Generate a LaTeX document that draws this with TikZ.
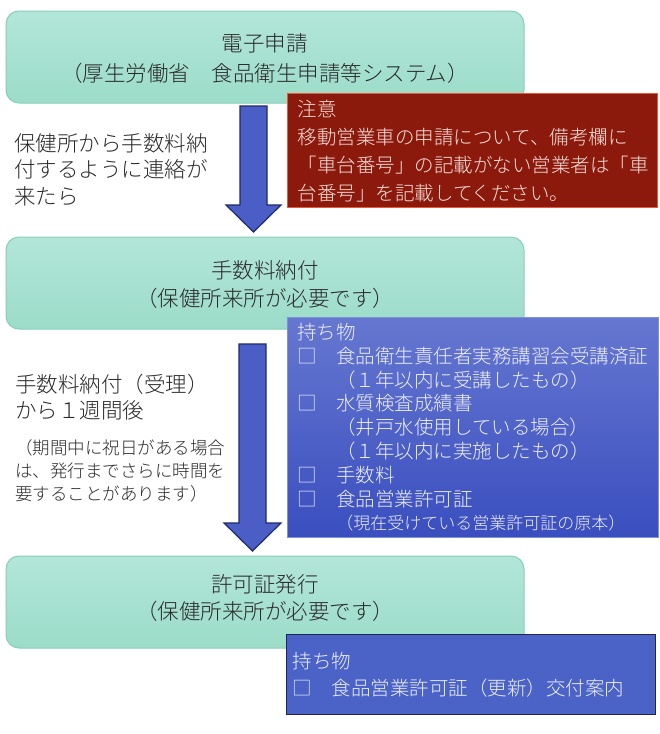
\documentclass[tikz,border=0pt]{standalone}
\usepackage{fontspec}
\setmainfont{Noto Sans CJK JP Light}
\usetikzlibrary{calc}
\definecolor{tealtop}{HTML}{B2E6D9}
\definecolor{tealbot}{HTML}{9CDCC9}
\definecolor{tealline}{HTML}{86CFB8}
\definecolor{redfill}{HTML}{8B1A0C}
\definecolor{redline}{HTML}{E5593E}
\definecolor{redtext}{HTML}{F6E0DA}
\definecolor{bluetop}{HTML}{6677D0}
\definecolor{bluebot}{HTML}{3A4EBF}
\definecolor{blueline}{HTML}{7F8FD8}
\definecolor{bluefill}{HTML}{4B62C6}
\definecolor{bluedark}{HTML}{1D2456}
\definecolor{bluetext}{HTML}{EEF0FA}
\definecolor{arrfill}{HTML}{4A5EC5}
\definecolor{arrline}{HTML}{1E2B6A}
\definecolor{txt}{HTML}{2A2A2A}
\begin{document}
\begin{tikzpicture}[x=1pt,y=-1pt,
  tealbox/.style={draw=tealline, line width=1pt, rounded corners=13pt,
    top color=tealtop, bottom color=tealbot, minimum width=518pt,
    minimum height=92pt, inner sep=0pt, align=center, text=txt,
    font=\fontsize{21.5}{27}\selectfont},
  notebox/.style={draw=redline, line width=1.3pt, fill=redfill, text=redtext,
    anchor=north west, minimum width=370pt, minimum height=114pt,
    inner xsep=10pt, inner ysep=0pt, text width=350pt, align=left,
    font=\fontsize{19.5}{28}\selectfont},
  itembox/.style={draw=blueline, line width=0.8pt, top color=bluetop,
    bottom color=bluebot, text=bluetext, anchor=north west,
    minimum width=371pt, minimum height=220pt, inner xsep=10pt,
    inner ysep=0pt, text width=351pt, align=left,
    font=\fontsize{19.5}{23.8}\selectfont},
  itembox2/.style={draw=bluedark, line width=1.2pt, fill=bluefill,
    text=bluetext, anchor=north west, minimum width=369pt,
    minimum height=80pt, inner xsep=6pt, inner ysep=0pt, text width=357pt,
    align=left, font=\fontsize{19.5}{27}\selectfont},
  sidetext/.style={anchor=west, inner sep=0pt, align=left, text=txt,
    font=\fontsize{21.5}{26.5}\selectfont},
  smalltext/.style={anchor=west, inner sep=0pt, align=left, text=txt,
    font=\fontsize{17.5}{23}\selectfont},
  blockarr/.style={draw=arrline, line width=1.2pt, fill=arrfill, line join=miter}]
\useasboundingbox (0,0) rectangle (660,734);
\fill[white] (0,0) rectangle (660,734);

% main steps
\node[tealbox, font=\fontsize{21.5}{30}\selectfont] (b1) at (265,57) {};
\node (b1t) at (265,58.5) [align=center, text=txt, inner sep=0pt, font=\fontsize{21.5}{30}\selectfont] {電子申請\\（厚生労働省　食品衛生申請等システム）};
\node[tealbox] (b2) at (265,283) {};
\node (b2t) at (265,284.5) [align=center, text=txt, inner sep=0pt, font=\fontsize{21.5}{27.5}\selectfont] {手数料納付\\（保健所来所が必要です）};
\node[tealbox] (b3) at (265,602) {};
\node (b3t) at (265,598.5) [align=center, text=txt, inner sep=0pt, font=\fontsize{21.5}{27}\selectfont] {許可証発行\\（保健所来所が必要です）};

% arrows
\coordinate (a1) at (253.5,106);
\coordinate (a2) at (252.5,344);
\draw[blockarr] ($(a1)+(-13.5,0)$) -- ++(27,0) -- ++(0,99) -- ++(14,0)
  -- (253.5,232) -- ($(a1)+(-27.5,99)$) -- ++(14,0) -- cycle;
\draw[blockarr] ($(a2)+(-13.5,0)$) -- ++(27,0) -- ++(0,179) -- ++(15,0)
  -- (252.5,551) -- ($(a2)+(-28.5,179)$) -- ++(15,0) -- cycle;

% side texts
\node[sidetext] (t1) at (14,169.5) {保健所から手数料納\\付するように連絡が\\来たら};
\node[sidetext] (t2) at (15,397) {手数料納付（受理）\\から１週間後};
\node[smalltext] (t3) at (15,471) {（期間中に祝日がある場合\\は、発行までさらに時間を\\要することがあります）};

% notes
\node[notebox] (n1) at (287,93) {注意\\移動営業車の申請について、備考欄に\\「車台番号」の記載がない営業者は「車\\台番号」を記載してください。};
\node[itembox] (n2) at (287,317) {持ち物\\□　食品衛生責任者実務講習会受講済証\\　　（１年以内に受講したもの）\\□　水質検査成績書\\　　（井戸水使用している場合）\\　　（１年以内に実施したもの）\\□　手数料\\□　食品営業許可証\\\hspace*{39pt}{\fontsize{17}{23.8}\selectfont（現在受けている営業許可証の原本）}};
\node[itembox2] (n3) at (286,634) {持ち物\\□　食品営業許可証（更新）交付案内};
\end{tikzpicture}
\end{document}
